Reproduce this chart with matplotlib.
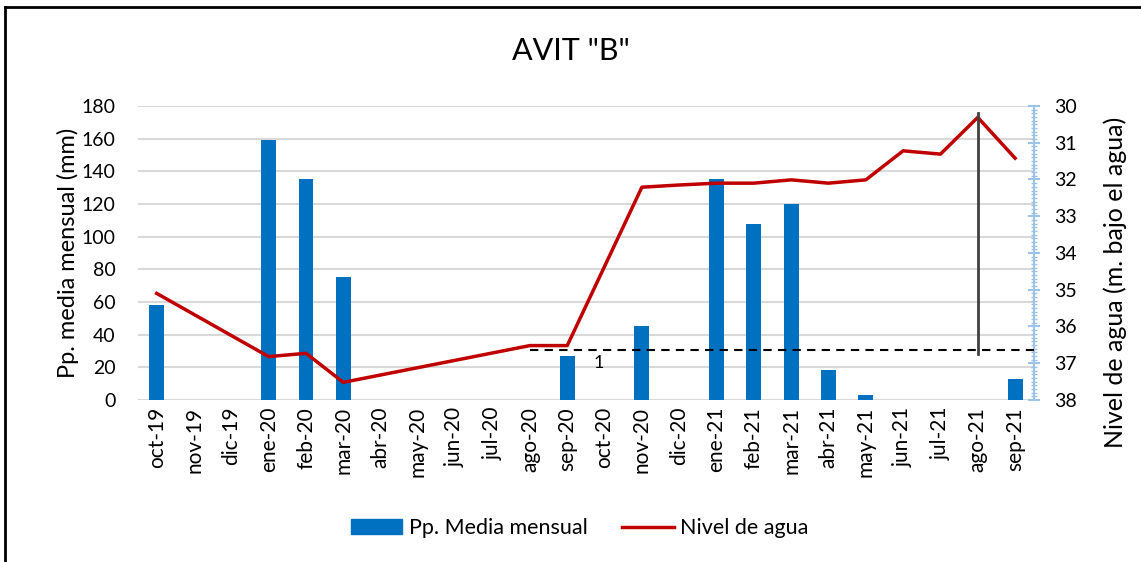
import numpy as np
import matplotlib
matplotlib.use("Agg")
import matplotlib.pyplot as plt
from matplotlib.ticker import MultipleLocator
from matplotlib.lines import Line2D

# --- Data ---
months = ["oct-19", "nov-19", "dic-19", "ene-20", "feb-20", "mar-20", "abr-20", "may-20",
          "jun-20", "jul-20", "ago-20", "sep-20", "oct-20", "nov-20", "dic-20", "ene-21",
          "feb-21", "mar-21", "abr-21", "may-21", "jun-21", "jul-21", "ago-21", "sep-21"]
precip = [58, 0, 0, 159, 135, 75, 0, 0, 0, 0, 0, 27, 0, 45, 0, 135,
          108, 120, 18.5, 3, 0, 0, 0, 13]
nivel = [35.1, np.nan, np.nan, 36.82, 36.73, 37.52, np.nan, np.nan, np.nan, np.nan,
         36.52, 36.52, np.nan, 32.21, 32.15, 32.10, 32.10, 32.01, 32.10, 32.01,
         31.22, 31.31, 30.31, 31.42]
ref_level = 36.64      # dashed reference line
ref_start = "ago-20"
peak_month = "ago-21"
peak_bottom = 36.75

plt.rcParams["font.family"] = ["Lato", "DejaVu Sans"]

BLUE = "#0070C0"
RED = "#C00000"

fig = plt.figure(figsize=(11.41, 5.62), dpi=100)
ax = fig.add_axes([0.121, 0.2883, 0.785, 0.5231])
ax2 = ax.twinx()

x = np.arange(len(months))
ax.bar(x, precip, width=0.4, color=BLUE, zorder=2)
ax.set_xlim(-0.5, len(months) - 0.5)
ax.set_ylim(0, 180)
ax.yaxis.set_major_locator(MultipleLocator(20))
ax.grid(axis="y", color="#D9D9D9", linewidth=1.5, zorder=0)
ax.set_axisbelow(True)
for s in ax.spines.values():
    s.set_visible(False)
ax.tick_params(axis="y", length=0, labelsize=14, pad=16)
ax.tick_params(axis="x", length=0, labelsize=15, pad=5)
ax.set_xticks(x)
ax.set_xticklabels(months, rotation=90)
ax.set_ylabel("Pp. media mensual (mm)", fontsize=17, labelpad=2)

# water level on inverted right axis
nv = np.array(nivel)
ok = ~np.isnan(nv)
ax2.plot(x[ok], nv[ok], color=RED, linewidth=2.5, zorder=3)
ax2.set_ylim(38, 30)
ax2.yaxis.set_major_locator(MultipleLocator(1))
ax2.yaxis.set_minor_locator(MultipleLocator(0.1))
for k, s in ax2.spines.items():
    s.set_visible(k == "right")
ax2.spines["right"].set_color("#9DC3E6")
ax2.spines["right"].set_linewidth(1.5)
ax2.tick_params(axis="y", which="major", direction="inout", length=8, width=1.5,
                color="#9DC3E6", labelsize=14, pad=11)
ax2.tick_params(axis="y", which="minor", direction="inout", length=5, width=1,
                color="#9DC3E6")
ax2.set_ylabel("Nivel de agua (m. bajo el agua)", fontsize=18)
ax2.yaxis.set_label_coords(1.078, 0.40)

# annotations
i0 = months.index(ref_start)
ax2.plot([i0, len(months) - 0.5], [ref_level, ref_level], color="black",
         linestyle=(0, (4, 3)), linewidth=1.5, zorder=4)
ax2.text(i0 + 1.85, ref_level + 0.35, "1", fontsize=13, ha="center", va="center")
ip = months.index(peak_month)
ax2.plot([ip, ip], [30.2, peak_bottom], color="#404040", linewidth=2, zorder=4)

fig.suptitle('AVIT "B"', fontsize=22, y=0.935)

handles = [plt.Rectangle((0, 0), 1, 1, color=BLUE),
           Line2D([0], [0], color=RED, linewidth=2.5)]
fig.legend(handles, ["Pp. Media mensual", "Nivel de agua"], loc="center",
           bbox_to_anchor=(0.508, 0.06), ncol=2, frameon=False, fontsize=15.5,
           handlelength=2.4, columnspacing=1.6, handletextpad=0.3)

# outer frame
fig.add_artist(Line2D([5 / 1141, 5 / 1141], [0, 1 - 7 / 562], color="black", linewidth=2,
                      transform=fig.transFigure))
fig.add_artist(Line2D([5 / 1141, 1], [1 - 7 / 562, 1 - 7 / 562], color="black", linewidth=2,
                      transform=fig.transFigure))

fig.savefig("out.png", dpi=100)
